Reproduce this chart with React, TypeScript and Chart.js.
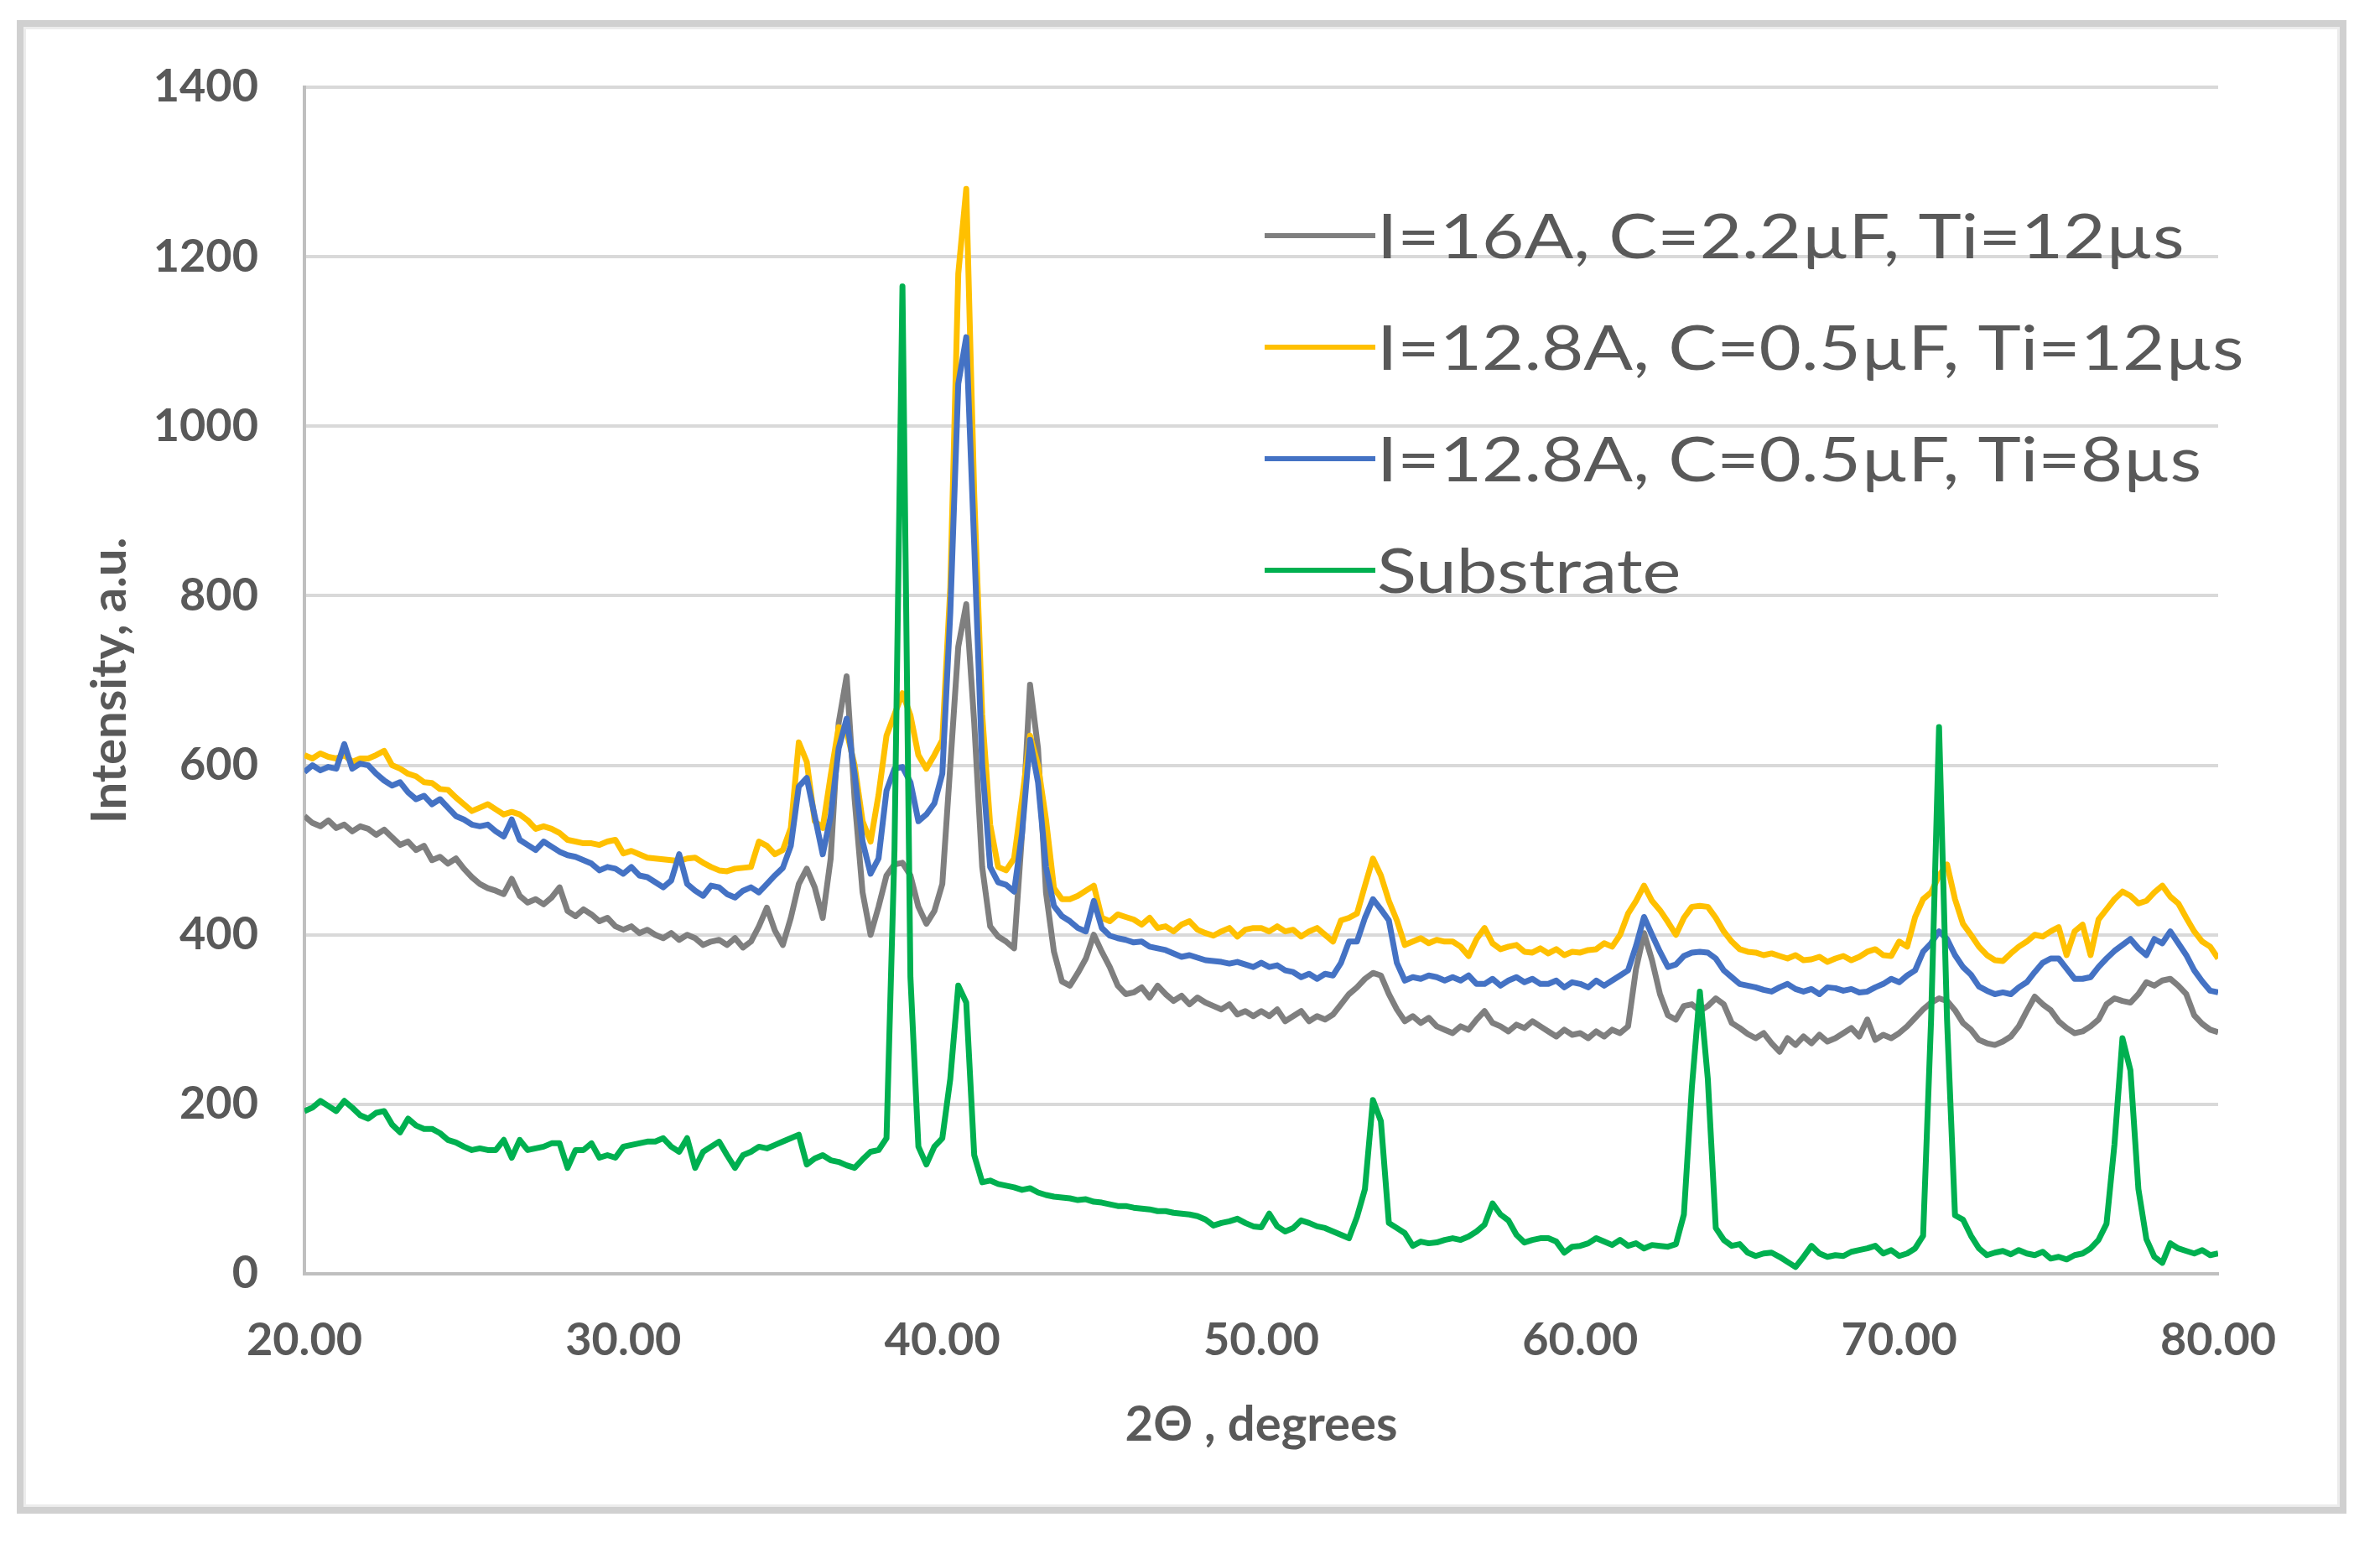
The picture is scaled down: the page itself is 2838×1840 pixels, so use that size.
import { useEffect, useRef } from 'react'
import { Chart, registerables } from 'chart.js'

Chart.register(...registerables)

// scan starts at 20° and steps 0.25° up to 80°
const SCAN_START = 20
const SCAN_STEP = 0.25

const seriesLabels = [
  'I=16A, C=2.2µF, Ti=12µs',
  'I=12.8A, C=0.5µF, Ti=12µs',
  'I=12.8A, C=0.5µF, Ti=8µs',
  'Substrate',
]
const seriesColors = ['#7f7f7f', '#ffc000', '#4472c4', '#00b050']

// one row per degree (x.00, x.25, x.50, x.75)
const gray16A = [
  540, 532, 528, 535, 526, 530, 522, 528, 525, 518, 524, 515, 506, 510, 500, 505,
  488, 492, 484, 490, 478, 468, 460, 455, 452, 448, 466, 446, 438, 442, 436, 444,
  456, 428, 422, 430, 424, 416, 420, 410, 406, 410, 402, 406, 400, 396, 402, 394,
  400, 396, 388, 392, 394, 388, 396, 385, 392, 410, 432, 405, 388, 420, 460, 478,
  456, 420, 490, 650, 705, 560, 450, 400, 433, 470, 483, 485, 470, 433, 413, 428,
  460, 600, 740, 790, 650, 480, 410, 398, 392, 384, 520, 695, 620, 450, 380, 345,
  340, 355, 372, 400, 380, 362, 340, 330, 332, 338, 326, 340, 330, 322, 328, 318,
  326, 320, 316, 312, 318, 306, 310, 304, 310, 304, 312, 298, 304, 310, 298, 304,
  300, 306, 318, 330, 338, 348, 355, 352, 330, 312, 298, 304, 296, 302, 292, 288,
  284, 292, 288, 300, 310, 296, 292, 286, 294, 290, 298, 292, 286, 280, 288, 282,
  284, 278, 286, 280, 288, 284, 292, 360, 402, 370, 330, 305, 300, 316, 318, 310,
  316, 325, 318, 296, 290, 283, 278, 284, 272, 262, 278, 270, 280, 272, 282, 274,
  278, 284, 290, 280, 300, 276, 282, 278, 284, 292, 302, 312, 320, 325, 322, 311,
  296, 288, 276, 272, 270, 274, 280, 292, 310, 327, 318, 311, 298, 290, 284, 286,
  292, 300, 318, 325, 322, 320, 330, 344, 340, 346, 348, 340, 330, 305, 295, 288,
  285,
]

const yellow12us = [
  612, 608, 614, 610, 608, 612, 604, 608, 608, 612, 617, 600, 596, 590, 587, 580,
  579, 572, 571, 562, 554, 546, 550, 554, 548, 542, 545, 542, 535, 525, 528, 525,
  520, 512, 510, 508, 508, 506, 510, 512, 496, 499, 495, 491, 490, 489, 488, 487,
  490, 491, 485, 480, 476, 475, 478, 479, 480, 510, 505, 495, 500, 526, 627, 604,
  534, 526, 588, 645, 640, 600, 534, 510, 565, 635, 660, 685, 659, 612, 596, 612,
  630, 810, 1180, 1280, 920, 660, 530, 480, 476, 490, 560, 635, 600, 536, 455, 442,
  442, 446, 452, 458, 420, 416, 424, 421, 418, 412, 420, 408, 410, 404, 412, 416,
  406, 402, 399, 404, 408, 398, 406, 408, 408, 404, 410, 404, 406, 398, 404, 408,
  400, 392, 417, 420, 425, 458, 490, 470, 440, 417, 388, 392, 396, 390, 394, 392,
  392, 386, 375, 395, 408, 390, 383, 386, 388, 380, 379, 384, 378, 383, 376, 380,
  379, 382, 383, 390, 386, 400, 425, 440, 458, 440, 429, 415, 400, 420, 433, 434,
  433, 420, 404, 392, 383, 380, 379, 376, 378, 375, 372, 376, 370, 371, 374, 368,
  372, 375, 370, 374, 380, 383, 376, 375, 392, 386, 421, 442, 450, 470, 483, 442,
  413, 400, 386, 376, 370, 369, 378, 386, 392, 400, 398, 404, 409, 376, 404, 412,
  376, 418, 430, 442, 451, 446, 437, 440, 450, 458, 445, 437, 420, 404, 392, 386,
  372,
]

const blue8us = [
  592, 600, 594, 598, 596, 625, 596, 602, 600, 590, 582, 576, 580, 568, 560, 564,
  554, 560, 550, 540, 536, 530, 528, 530, 522, 516, 536, 512, 506, 500, 510, 504,
  498, 494, 492, 488, 484, 476, 480, 478, 472, 480, 470, 468, 462, 456, 464, 495,
  460, 452, 446, 458, 456, 448, 444, 452, 456, 450, 460, 470, 479, 505, 575, 585,
  540, 495, 540, 620, 655, 590, 510, 472, 490, 570, 596, 598, 580, 534, 542, 555,
  590, 780, 1050, 1105, 860, 600, 480, 462, 459, 451, 520, 630, 580, 480, 434, 422,
  416, 408, 404, 440, 408, 399, 396, 394, 391, 392, 386, 384, 382, 378, 374, 376,
  373, 370, 369, 368, 366, 368, 365, 362, 367, 362, 364, 358, 356, 350, 354, 348,
  354, 352, 367, 392, 392, 420, 442, 430, 417, 367, 346, 350, 348, 352, 350, 346,
  350, 346, 352, 342, 342, 348, 340, 346, 350, 344, 348, 342, 342, 346, 338, 344,
  342, 338, 346, 340, 346, 352, 358, 387, 421, 400, 380, 362, 365, 375, 379, 380,
  379, 372, 358, 350, 342, 340, 338, 335, 333, 338, 342, 336, 333, 336, 330, 338,
  337, 334, 336, 332, 333, 338, 342, 348, 344, 352, 358, 380, 390, 404, 395, 376,
  362, 353, 339, 334, 330, 332, 330, 338, 344, 356, 367, 372, 372, 360, 348, 348,
  350, 362, 372, 381, 388, 395, 384, 376, 395, 390, 404, 390, 376, 358, 345, 334,
  332,
]

const substrate = [
  192, 196, 204, 198, 192, 204, 196, 187, 183, 190, 192, 176, 167, 183, 175, 171,
  171, 166, 158, 155, 150, 146, 148, 146, 146, 158, 137, 158, 146, 148, 150, 154,
  154, 125, 146, 146, 154, 137, 140, 137, 150, 152, 154, 156, 156, 160, 150, 144,
  160, 125, 144, 150, 156, 140, 125, 140, 144, 150, 148, 152, 156, 160, 164, 129,
  136, 140, 134, 132, 128, 125, 135, 144, 146, 160, 500, 1165, 350, 150, 129, 150,
  160, 230, 340, 320, 140, 108, 110, 106, 104, 102, 99, 101, 96, 93, 91, 90,
  89, 87, 88, 85, 84, 82, 80, 80, 78, 77, 76, 74, 74, 72, 71, 70,
  68, 64, 57, 60, 62, 65, 60, 56, 55, 71, 56, 50, 54, 63, 60, 56,
  54, 50, 46, 42, 67, 100, 205, 180, 60, 54, 48, 33, 38, 36, 37, 40,
  42, 40, 44, 50, 58, 83, 70, 63, 46, 37, 40, 42, 42, 38, 25, 32,
  33, 36, 42, 38, 34, 40, 33, 36, 30, 34, 33, 32, 35, 70, 220, 333,
  230, 54, 40, 33, 35, 25, 21, 24, 25, 20, 14, 8, 20, 33, 24, 20,
  22, 21, 26, 28, 30, 33, 24, 28, 21, 24, 30, 45, 300, 645, 300, 69,
  64, 45, 30, 22, 25, 27, 23, 28, 24, 22, 26, 18, 20, 17, 22, 24,
  30, 40, 59, 153, 278, 240, 100, 41, 20, 13, 36, 30, 27, 24, 28, 22,
  24,
]

const seriesValues = [gray16A, yellow12us, blue8us, substrate]
const twoTheta = gray16A.map((_, i) => SCAN_START + i * SCAN_STEP)

const yTicks = { min: 0, max: 1400, step: 200 }
const xTicks = { min: 20, max: 80, step: 10 }

const TEXT = '#595959'

// Excel-style legend drawn inside the plot area (the source text is a wide face, so stretch it a bit)
const insideLegend = {
  id: 'insideLegend',
  afterDraw(chart: Chart) {
    const { ctx } = chart
    const stretch = 1.19
    ctx.save()
    ctx.font = '400 73px Lato'
    ctx.textBaseline = 'middle'
    chart.data.datasets.forEach((ds: any, i: number) => {
      const y = 281 + i * 133
      ctx.strokeStyle = ds.borderColor
      ctx.lineWidth = 6
      ctx.beginPath()
      ctx.moveTo(1508, y)
      ctx.lineTo(1640, y)
      ctx.stroke()
      ctx.save()
      ctx.translate(1642, y + 3)
      ctx.scale(stretch, 1)
      ctx.fillStyle = TEXT
      ctx.fillText(ds.label, 0, 0)
      ctx.restore()
    })
    ctx.restore()
  },
}

function XrdChart() {
  const canvasRef = useRef<HTMLCanvasElement>(null)
  const chartRef = useRef<Chart | null>(null)

  useEffect(() => {
    if (!canvasRef.current) return
    if (chartRef.current) chartRef.current.destroy()

    chartRef.current = new Chart(canvasRef.current, {
      type: 'line',
      data: {
        datasets: seriesValues.map((values, i) => ({
          label: seriesLabels[i],
          data: values.map((y, j) => ({ x: twoTheta[j], y })),
          borderColor: seriesColors[i],
          borderWidth: 7,
          pointRadius: 0,
          tension: 0,
          fill: false,
          borderJoinStyle: 'round' as const,
          order: seriesValues.length - 1 - i,
        })),
      },
      options: {
        responsive: false,
        devicePixelRatio: 1,
        animation: false,
        layout: { padding: { left: 0, top: 104, right: 193, bottom: 0 } },
        plugins: {
          legend: { display: false },
          tooltip: { enabled: false },
        },
        scales: {
          x: {
            type: 'linear',
            min: xTicks.min,
            max: xTicks.max,
            afterFit: (scale: any) => { scale.height = 321 },
            grid: { display: false, drawTicks: false },
            border: { display: true, color: '#bfbfbf', width: 4 },
            ticks: {
              stepSize: xTicks.step,
              padding: 47,
              color: TEXT,
              font: { family: 'Lato', size: 54, weight: 'bold' },
              callback: (v: any) => Number(v).toFixed(2),
              maxRotation: 0,
            },
            title: {
              display: true,
              text: '2Θ , degrees',
              color: TEXT,
              font: { family: 'Lato', size: 58, weight: 'bold' },
              padding: { top: 0, bottom: 106 },
            },
          },
          y: {
            min: yTicks.min,
            max: yTicks.max,
            afterFit: (scale: any) => { scale.width = 363 },
            grid: { color: '#d9d9d9', lineWidth: 4, drawTicks: false },
            border: { display: true, color: '#bfbfbf', width: 4 },
            ticks: {
              stepSize: yTicks.step,
              padding: 55,
              color: TEXT,
              font: { family: 'Lato', size: 54, weight: 'bold' },
              callback: (v: any) => String(v),
            },
            title: {
              display: true,
              text: 'Intensity, a.u.',
              color: TEXT,
              font: { family: 'Lato', size: 58, weight: 'bold' },
              padding: { top: 96, bottom: 0 },
            },
          },
        },
      },
      plugins: [insideLegend],
    })

    return () => {
      if (chartRef.current) {
        chartRef.current.destroy()
        chartRef.current = null
      }
    }
  }, [])

  return (
    <div style={{ position: 'absolute', left: 0, top: 0, width: 2838, height: 1840, background: '#fff' }}>
      <div
        style={{
          position: 'absolute',
          left: 20,
          top: 24,
          width: 2778,
          height: 1781,
          boxSizing: 'border-box',
          border: '8px solid #d0d0d0',
          boxShadow: 'inset 0 0 0 3px #ececec',
        }}
      />
      <canvas
        ref={canvasRef}
        width={2838}
        height={1840}
        style={{ position: 'absolute', left: 0, top: 0, width: 2838, height: 1840 }}
      />
    </div>
  )
}

export default function App() {
  return <XrdChart />
}
